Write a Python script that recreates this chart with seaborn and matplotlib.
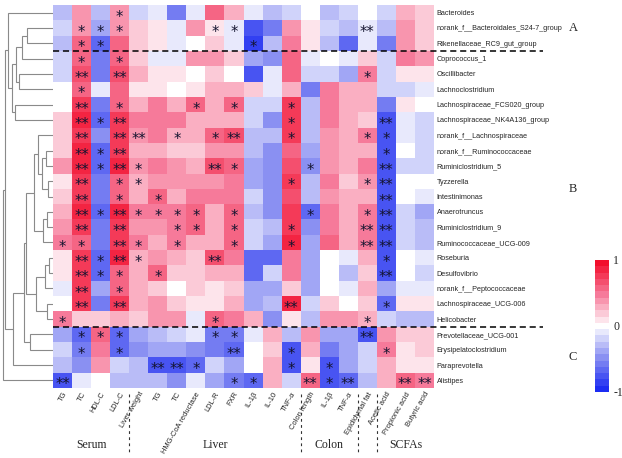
import numpy as np
import pandas as pd
import matplotlib
matplotlib.use("Agg")
import matplotlib.pyplot as plt
import seaborn as sns
from matplotlib.colors import LinearSegmentedColormap

# ---- data ----
genera = [
    "Bacteroides", "norank_f__Bacteroidales_S24-7_group", "Rikenellaceae_RC9_gut_group",
    "Coprococcus_1", "Oscillibacter", "Lachnoclostridium", "Lachnospiraceae_FCS020_group",
    "Lachnospiraceae_NK4A136_group", "norank_f__Lachnospiraceae", "norank_f__Ruminococcaceae",
    "Ruminiclostridium_5", "Tyzzerella", "Intestinimonas", "Anaerotruncus",
    "Ruminiclostridium_9", "Ruminococcaceae_UCG-009", "Roseburia", "Desulfovibrio",
    "norank_f__Peptococcaceae", "Lachnospiraceae_UCG-006", "Helicobacter",
    "Prevotellaceae_UCG-001", "Erysipelatoclostridium", "Paraprevotella", "Alistipes",
]
measures = ["TG", "TC", "HDL-C", "LDL-C", "Liver weight", "TG", "TC", "HMG-CoA reductase",
            "LDL-R", "FXR", "IL-1β", "IL-10", "TNF-α", "Colon length", "IL-1β", "TNF-α",
            "Epididymal fat", "Acetic acid", "Propionic acid", "Butyric acid"]
group_names = ["Serum", "Liver", "Colon", "", "SCFAs"]
group_sizes = [4, 9, 3, 1, 3]
cluster_names = ["A", "B", "C"]
cluster_sizes = [3, 18, 4]

r_values = [
    [-0.3, 0.4, -0.3, 0.35, -0.15, -0.1, -0.6, -0.1, 0.6, 0.25, -0.1, -0.3, -0.2, 0.0, -0.3, -0.2, 0.0, -0.15, 0.3, 0.15],
    [-0.2, 0.4, -0.4, 0.35, 0.2, 0.1, -0.1, 0.4, 0.1, -0.1, -0.75, -0.55, 0.35, 0.1, -0.15, -0.3, -0.1, -0.3, 0.35, 0.15],
    [-0.3, 0.6, -0.65, 0.55, 0.2, 0.1, -0.1, 0.0, 0.2, -0.1, -0.85, -0.3, 0.45, 0.1, -0.3, -0.7, -0.1, -0.55, 0.35, 0.15],
    [-0.2, 0.55, -0.6, 0.55, 0.2, -0.1, -0.1, 0.4, 0.4, 0.2, -0.35, -0.5, 0.6, -0.05, 0.0, -0.1, 0.2, -0.2, 0.5, 0.4],
    [-0.2, 0.7, -0.6, 0.7, 0.3, 0.1, 0.1, 0.0, 0.15, 0.0, -0.75, -0.1, 0.6, -0.15, -0.15, -0.35, 0.5, -0.2, 0.1, 0.1],
    [0.0, 0.55, -0.1, 0.55, 0.1, 0.1, 0.0, 0.05, 0.25, 0.3, 0.2, -0.1, 0.25, -0.55, 0.5, 0.25, 0.25, -0.15, -0.15, -0.1],
    [0.0, 0.8, -0.55, 0.55, 0.3, 0.5, 0.3, 0.55, 0.25, 0.55, -0.2, -0.2, 0.75, -0.3, 0.45, 0.25, 0.3, -0.6, 0.1, 0.0],
    [0.2, 0.85, -0.7, 0.8, 0.45, 0.45, 0.45, 0.25, 0.3, 0.3, -0.2, -0.45, 0.75, -0.3, 0.45, 0.3, 0.2, -0.8, -0.1, -0.2],
    [0.2, 0.8, -0.5, 0.8, 0.4, 0.5, 0.3, 0.3, 0.6, 0.65, -0.25, -0.3, 0.75, -0.3, 0.4, 0.25, 0.5, -0.8, -0.1, -0.15],
    [0.2, 0.85, -0.65, 0.75, 0.3, 0.3, 0.15, 0.2, 0.4, 0.4, -0.3, -0.5, 0.55, -0.35, 0.4, 0.25, 0.3, -0.8, 0.0, -0.15],
    [0.35, 0.85, -0.7, 0.85, 0.35, 0.45, 0.4, 0.3, 0.7, 0.55, -0.35, -0.5, 0.65, -0.45, 0.4, 0.25, 0.45, -0.8, -0.2, -0.2],
    [0.1, 0.8, -0.6, 0.6, 0.3, 0.4, 0.35, 0.4, 0.4, 0.45, -0.35, -0.5, 0.75, -0.25, 0.45, 0.2, 0.4, -0.8, 0.0, 0.0],
    [0.2, 0.8, -0.6, 0.6, 0.3, 0.6, 0.3, 0.45, 0.45, 0.45, -0.2, -0.45, 0.65, -0.25, 0.4, 0.3, 0.3, -0.8, 0.0, -0.1],
    [0.25, 0.85, -0.7, 0.85, 0.45, 0.5, 0.45, 0.55, 0.3, 0.55, -0.3, -0.5, 0.75, -0.65, 0.5, 0.25, 0.45, -0.8, -0.2, -0.35],
    [0.4, 0.8, -0.6, 0.75, 0.35, 0.4, 0.5, 0.55, 0.3, 0.55, -0.15, -0.25, 0.75, -0.5, 0.45, 0.3, 0.45, -0.8, -0.2, -0.3],
    [0.5, 0.6, -0.55, 0.75, 0.45, 0.3, 0.45, 0.3, 0.25, 0.55, -0.2, -0.35, 0.85, -0.35, 0.6, 0.3, 0.45, -0.8, -0.2, -0.3],
    [0.05, 0.8, -0.65, 0.85, 0.3, 0.35, 0.3, 0.15, 0.7, 0.45, -0.7, -0.65, 0.5, -0.35, 0.0, -0.1, 0.3, -0.8, 0.0, -0.1],
    [0.05, 0.8, -0.65, 0.6, 0.25, 0.55, 0.2, 0.2, 0.3, 0.25, -0.65, -0.15, 0.5, -0.35, 0.0, -0.3, 0.2, -0.8, 0.0, -0.15],
    [-0.1, 0.75, -0.4, 0.6, 0.25, 0.15, 0.0, 0.2, 0.1, 0.2, -0.35, -0.35, 0.15, -0.35, 0.0, -0.1, 0.25, -0.35, -0.1, -0.1],
    [0.0, 0.75, -0.6, 0.75, 0.3, 0.35, 0.2, 0.1, 0.1, 0.25, -0.4, -0.25, 0.9, -0.2, 0.2, 0.0, 0.15, -0.7, 0.1, 0.05],
    [0.45, 0.15, 0.2, 0.3, 0.2, 0.4, 0.4, -0.1, 0.6, 0.45, 0.25, -0.45, 0.1, -0.25, 0.35, 0.4, 0.3, -0.2, -0.25, -0.25],
    [-0.35, -0.65, 0.55, -0.65, -0.35, -0.3, -0.2, -0.05, -0.6, -0.55, -0.1, 0.25, -0.25, 0.4, -0.35, -0.35, -0.8, 0.35, 0.15, 0.15],
    [-0.2, -0.6, 0.45, -0.65, -0.5, -0.35, -0.35, -0.45, -0.55, -0.7, 0.0, 0.2, -0.75, 0.3, -0.55, -0.4, -0.15, 0.45, 0.1, 0.2],
    [-0.3, -0.45, 0.35, -0.15, -0.3, -0.75, -0.75, -0.65, -0.2, -0.35, 0.0, 0.25, -0.75, 0.1, -0.75, -0.35, -0.2, 0.25, 0.1, 0.1],
    [-0.8, -0.1, 0.0, -0.3, -0.3, -0.3, -0.5, -0.1, -0.35, -0.6, -0.7, 0.25, -0.2, 0.6, -0.8, -0.7, -0.3, 0.25, 0.55, 0.5],
]

# significance per cell: '.' none, '1' = *, '2' = **
signif = [
    "...1................",
    ".111....11......2...",
    ".11.......1.........",
    ".1.1................",
    ".2.2............1...",
    ".1..................",
    ".2.1...1.1..1.......",
    ".212........1....2..",
    ".2.22.1.12..1...11..",
    ".212.............1..",
    ".2121...21...1...2..",
    ".2.11.......1...12..",
    ".2.1.1...........2..",
    ".2121111.1...1..12..",
    ".2.2..11.1..1...22..",
    "11.21.1..1..1...22..",
    ".2121...2........1..",
    ".211.1...........2..",
    ".2.1................",
    ".2.2........2....1..",
    "1.......1.......1...",
    ".111....11......2...",
    ".1.1.....2..1....1..",
    ".....221....1.1.....",
    "2........11..212..22",
]

# row dendrogram: (child a, child b, merge distance); new nodes numbered from 25
merges = [
    (1, 2, 0.52), (25, 3, 0.62), (4, 5, 0.68), (26, 27, 0.74), (6, 7, 0.76),
    (28, 29, 0.82), (0, 30, 0.90), (9, 10, 0.14), (11, 12, 0.10), (32, 33, 0.22),
    (8, 34, 0.30), (13, 14, 0.12), (36, 15, 0.20), (35, 37, 0.38), (16, 17, 0.08),
    (39, 18, 0.16), (19, 20, 0.12), (40, 41, 0.34), (38, 42, 0.55), (21, 22, 0.46),
    (43, 44, 0.58), (45, 23, 0.80), (31, 46, 0.96), (47, 24, 1.00),
]

# ---- style ----
sns.set_theme(style="white")
plt.rcParams["font.family"] = ["Liberation Sans", "DejaVu Sans"]
plt.rcParams["axes.unicode_minus"] = False
serif = ["Liberation Serif", "DejaVu Serif"]

cmap = LinearSegmentedColormap.from_list(
    "bwr_soft", ["#1c2cf2", "#8a90f2", "#ffffff", "#f67a9a", "#f20f2c"], N=21)

W, H = 622, 458


def box(x0, y0, x1, y1):
    return [x0 / W, 1 - y1 / H, (x1 - x0) / W, (y1 - y0) / H]


fig = plt.figure(figsize=(W / 100, H / 100), dpi=100)
ax = fig.add_axes(box(53, 5, 434, 388))
dax = fig.add_axes(box(0, 5, 53, 388))
cax = fig.add_axes(box(595, 260, 609, 392))

n_rows, n_cols = len(genera), len(measures)
star_map = {".": "", "1": "*", "2": "**"}
annot = np.array([[star_map[c] for c in s] for s in signif])
df = pd.DataFrame(r_values, index=genera)

sns.heatmap(df, ax=ax, cmap=cmap, vmin=-1, vmax=1, annot=annot, fmt="",
            annot_kws=dict(color="#141430", fontsize=10.5, family="DejaVu Sans"),
            xticklabels=measures, yticklabels=genera, cbar_ax=cax)

# nudge stars down to sit in the cell middle
for t in ax.texts:
    x, y = t.get_position()
    t.set_position((x, y + 0.3))

ax.yaxis.tick_right()
ax.set_yticklabels(genera, rotation=0, fontsize=5.2)
ax.set_xticklabels(measures, rotation=60, ha="right", rotation_mode="anchor", fontsize=5.4)
ax.tick_params(axis="both", length=0, pad=2)
ax.set_xlabel("")
ax.set_ylabel("")

# dashed cluster separators running through the labels
ext = (543 - 53) / (434 - 53) * n_cols
for b in np.cumsum(cluster_sizes)[:-1]:
    ax.plot([0, ext], [b, b], color="black", lw=1.1, ls=(0, (4, 2.5)), clip_on=False)

# cluster letters
starts = np.concatenate([[0], np.cumsum(cluster_sizes)[:-1]])
for name, s, size in zip(cluster_names, starts, cluster_sizes):
    ax.text(n_cols * 1.365, s + size / 2, name, family=serif, fontsize=9,
            ha="center", va="center", clip_on=False)

# tissue groups below the x labels
gstarts = np.concatenate([[0], np.cumsum(group_sizes)[:-1]])
for name, s, size in zip(group_names, gstarts, group_sizes):
    if name:
        ax.text(s + size / 2, n_rows + 3.7, name, family=serif, fontsize=8.5,
                ha="center", va="center", clip_on=False)
for b in np.cumsum(group_sizes)[:-1]:
    ax.plot([b, b], [n_rows + 0.4, n_rows + 4.4], color="#333333", lw=0.8,
            ls=(0, (2.5, 3)), clip_on=False)

# colorbar
cbar = ax.collections[0].colorbar
cbar.outline.set_visible(False)
cbar.set_ticks([-1, 0, 1])
cbar.set_ticklabels(["-1", "0", "1"])
cbar.ax.tick_params(length=0, pad=3)
for lab in cbar.ax.get_yticklabels():
    lab.set_family(serif)
    lab.set_fontsize(8.5)

# dendrogram
pos = {i: (i + 0.5, 0.0) for i in range(n_rows)}
for k, (a, b, h) in enumerate(merges):
    ya, ha_ = pos[a]
    yb, hb = pos[b]
    dax.plot([ha_, h, h, hb], [ya, ya, yb, yb], color="#8a8a8a", lw=0.8,
             solid_joinstyle="miter")
    pos[n_rows + k] = ((ya + yb) / 2, h)
dax.set_xlim(1.06, 0)
dax.set_ylim(n_rows, 0)
dax.axis("off")

fig.savefig("out.png", dpi=100)
